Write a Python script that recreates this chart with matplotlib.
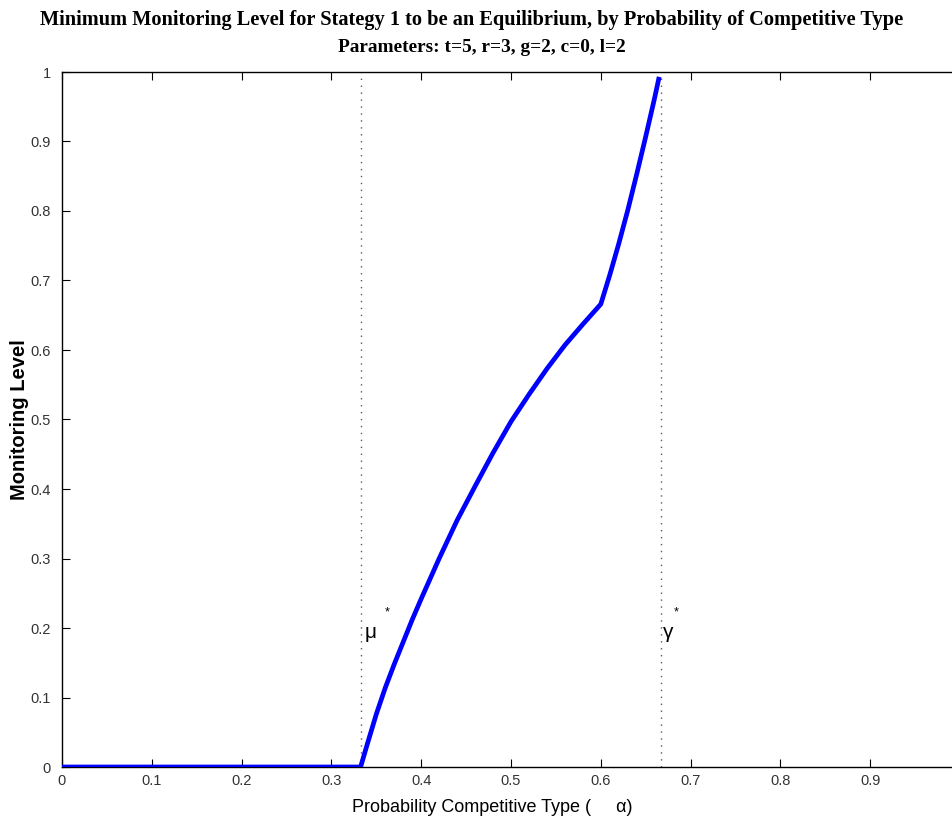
import matplotlib
matplotlib.use("Agg")
import matplotlib.pyplot as plt
import numpy as np

alpha = [0.0, 0.20, 0.3325, 0.34, 0.35, 0.36, 0.37, 0.38, 0.39, 0.40, 0.42, 0.44, 0.46,
         0.48, 0.50, 0.52, 0.54, 0.56, 0.58, 0.60, 0.61, 0.62, 0.63, 0.64, 0.65, 0.66, 0.665]
monitoring = [0.0, 0.0, 0.0, 0.033, 0.076, 0.114, 0.148, 0.180, 0.212, 0.242, 0.300, 0.355, 0.404,
              0.452, 0.497, 0.536, 0.573, 0.607, 0.637, 0.666, 0.708, 0.753, 0.801, 0.853, 0.907,
              0.963, 0.993]
mu_star = 1/3
gamma_star = 2/3
xticks = [0, 0.1, 0.2, 0.3, 0.4, 0.5, 0.6, 0.7, 0.8, 0.9]
xticklabels = ["0", "0.1", "0.2", "0.3", "0.4", "0.5", "0.6", "0.7", "0.8", "0.9"]
yticks = [0, 0.1, 0.2, 0.3, 0.4, 0.5, 0.6, 0.7, 0.8, 0.9, 1]
yticklabels = ["0", "0.1", "0.2", "0.3", "0.4", "0.5", "0.6", "0.7", "0.8", "0.9", "1"]

sans = "Liberation Sans"

fig = plt.figure(figsize=(9.53, 8.22), dpi=100)
W, H = 953, 822
left, right, top, bottom = 62, 960, 72, 767
ax = fig.add_axes([left / W, (H - bottom) / H, (right - left) / W, (bottom - top) / H])

ax.plot(alpha, monitoring, color=(0, 0, 1), lw=3.4, solid_capstyle='butt',
        solid_joinstyle='round', zorder=3)
ax.axvline(mu_star, color='0.35', ls=(0, (1, 4)), lw=1.0)
ax.axvline(gamma_star, color='0.35', ls=(0, (1, 4)), lw=1.0)

ax.text(mu_star + 0.004, 0.193, "μ", fontsize=15, family=sans, va='center')
ax.text(mu_star + 0.026, 0.222, "*", fontsize=9, family=sans, va='center')
ax.text(gamma_star + 0.003, 0.193, "γ", fontsize=15, family=sans, va='center')
ax.text(gamma_star + 0.014, 0.222, "*", fontsize=9, family=sans, va='center')

ax.set_xlim(0, 1)
ax.set_ylim(0, 1)
ax.set_xticks(xticks)
ax.set_xticklabels(xticklabels)
ax.set_yticks(yticks)
ax.set_yticklabels(yticklabels)
ax.tick_params(direction='in', length=6, width=0.8, top=True, right=True,
               labelsize=10.5, labelcolor='0.2')
ax.tick_params(axis='x', pad=5)
ax.tick_params(axis='y', pad=8)
for lab in ax.get_xticklabels() + ax.get_yticklabels():
    lab.set_family(sans)
for s in ax.spines.values():
    s.set_linewidth(1.0)

ax.set_xlabel("Probability Competitive Type (     α)", fontsize=13, family=sans)
ax.xaxis.set_label_coords((492 - left) / (right - left), -(807 - bottom) / (bottom - top), transform=ax.transAxes)
ax.xaxis.label.set_va('center')
ax.set_ylabel("Monitoring Level", fontsize=14.5, family=sans, fontweight='bold')
ax.yaxis.set_label_coords(-(left - 20) / (right - left), (bottom - 420) / (bottom - top), transform=ax.transAxes)
ax.yaxis.label.set_va('center')

fig.text(472 / W, 1 - 20 / H, "Minimum Monitoring Level for Stategy 1 to be an Equilibrium, by Probability of Competitive Type",
         ha='center', va='center', fontsize=14.7, family="Liberation Serif", fontweight='bold')
fig.text(482 / W, 1 - 47 / H, "Parameters: t=5, r=3, g=2, c=0, l=2",
         ha='center', va='center', fontsize=13.9, family="Liberation Serif", fontweight='bold')

fig.savefig("out.png", dpi=100)
